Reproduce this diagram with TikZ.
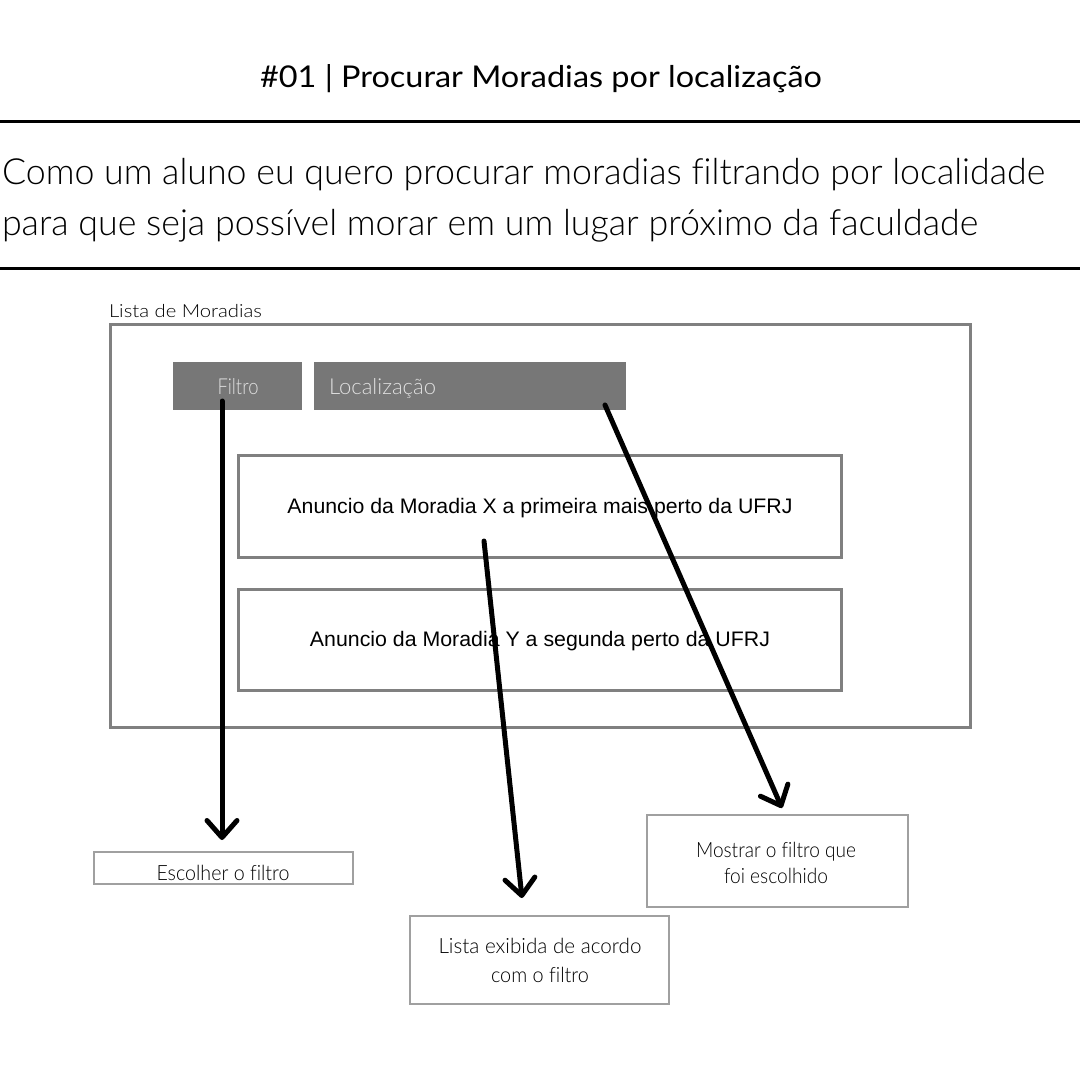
\documentclass[tikz,border=0pt]{standalone}
\usepackage{graphicx}
\usepackage{fontspec}
\setmainfont{Lato}[Ligatures=CommonOff]
\newfontfamily\lightf{Lato}[UprightFont=* Light, Ligatures=CommonOff]
\newfontfamily\arialf{Liberation Sans}
\usetikzlibrary{arrows.meta}
\newcommand\fitw[2]{\resizebox{#1}{\height}{#2}}
\definecolor{boxgray}{HTML}{808080}
\definecolor{fillgray}{HTML}{777777}
\definecolor{thingray}{HTML}{A0A0A0}
\definecolor{paletext}{HTML}{E0E0E0}
\tikzset{
  rule/.style={line width=3pt, black},
  frame/.style={draw=boxgray, line width=3pt},
  tab/.style={fill=fillgray},
  card/.style={draw=boxgray, line width=3pt},
  note/.style={draw=thingray, line width=1.2pt},
  txt/.style={inner sep=0pt, outer sep=0pt},
  flow/.style={line width=5pt, black, line cap=round, -{Straight Barb[length=17pt,width=30pt,line cap=round,line join=round]}}
}
\begin{document}
\begin{tikzpicture}[x=1pt,y=-1pt]
\useasboundingbox (0,0) rectangle (1080,1080);
\fill[white] (0,0) rectangle (1080,1080);

% header
\node[txt, anchor=base] (title) at (541,87) {\fontsize{30}{36}\selectfont\fitw{562pt}{\#01 | Procurar Moradias por localização}};
\draw[rule] (0,121) -- (1080,121);
\node[txt, anchor=base west] (p1) at (2,184) {\fontsize{36}{44}\lightf\fitw{1043pt}{Como um aluno eu quero procurar moradias filtrando por localidade}};
\node[txt, anchor=base west] (p2) at (2,235) {\fontsize{36}{44}\lightf\fitw{976pt}{para que seja possível morar em um lugar próximo da faculdade}};
\draw[rule] (0,268) -- (1080,268);

% main frame
\node[txt, anchor=base west] (listlbl) at (109,317) {\fontsize{18}{22}\lightf\fitw{153pt}{Lista de Moradias}};
\draw[frame] (110,324) rectangle (970,727);

% tabs
\fill[tab] (173,362) rectangle (302,410);
\node[txt, anchor=base, text=paletext] (filtro) at (238,394) {\fontsize{22}{26}\lightf\fitw{41pt}{Filtro}};
\fill[tab] (314,362) rectangle (626,410);
\node[txt, anchor=base west, text=paletext] (local) at (329,394) {\fontsize{22}{26}\lightf\fitw{107pt}{Localização}};

% cards
\draw[card] (238,455) rectangle (841,557);
\node[txt, anchor=base] (card1) at (540,513) {\fontsize{21}{25}\arialf\fitw{505pt}{Anuncio da Moradia X a primeira mais perto da UFRJ}};
\draw[card] (238,589) rectangle (841,690);
\node[txt, anchor=base] (card2) at (540,646) {\fontsize{21}{25}\arialf\fitw{460pt}{Anuncio da Moradia Y a segunda perto da UFRJ}};

% notes
\draw[note] (94,852) rectangle (353,884);
\node[txt, anchor=base] (escolher) at (223,880) {\fontsize{21}{25}\lightf\fitw{133pt}{Escolher o filtro}};
\draw[note] (647,815) rectangle (908,907);
\node[txt, anchor=base] (mostrar1) at (776,857) {\fontsize{21}{25}\lightf\fitw{160pt}{Mostrar o filtro que}};
\node[txt, anchor=base] (mostrar2) at (776,883) {\fontsize{21}{25}\lightf\fitw{104pt}{foi escolhido}};
\draw[note] (410,916) rectangle (669,1004);
\node[txt, anchor=base] (lista1) at (540,953) {\fontsize{21}{25}\lightf\fitw{203pt}{Lista exibida de acordo}};
\node[txt, anchor=base] (lista2) at (540,982) {\fontsize{21}{25}\lightf\fitw{98pt}{com o filtro}};

% connectors
\coordinate (a1s) at (222,401);
\coordinate (a1e) at (222,840);
\coordinate (a2s) at (484,541);
\coordinate (a2e) at (522,898);
\coordinate (a3s) at (605,405);
\coordinate (a3e) at (782,808);
\draw[flow] (a1s) -- (a1e);
\draw[flow] (a2s) -- (a2e);
\draw[flow] (a3s) -- (a3e);
\end{tikzpicture}
\end{document}
